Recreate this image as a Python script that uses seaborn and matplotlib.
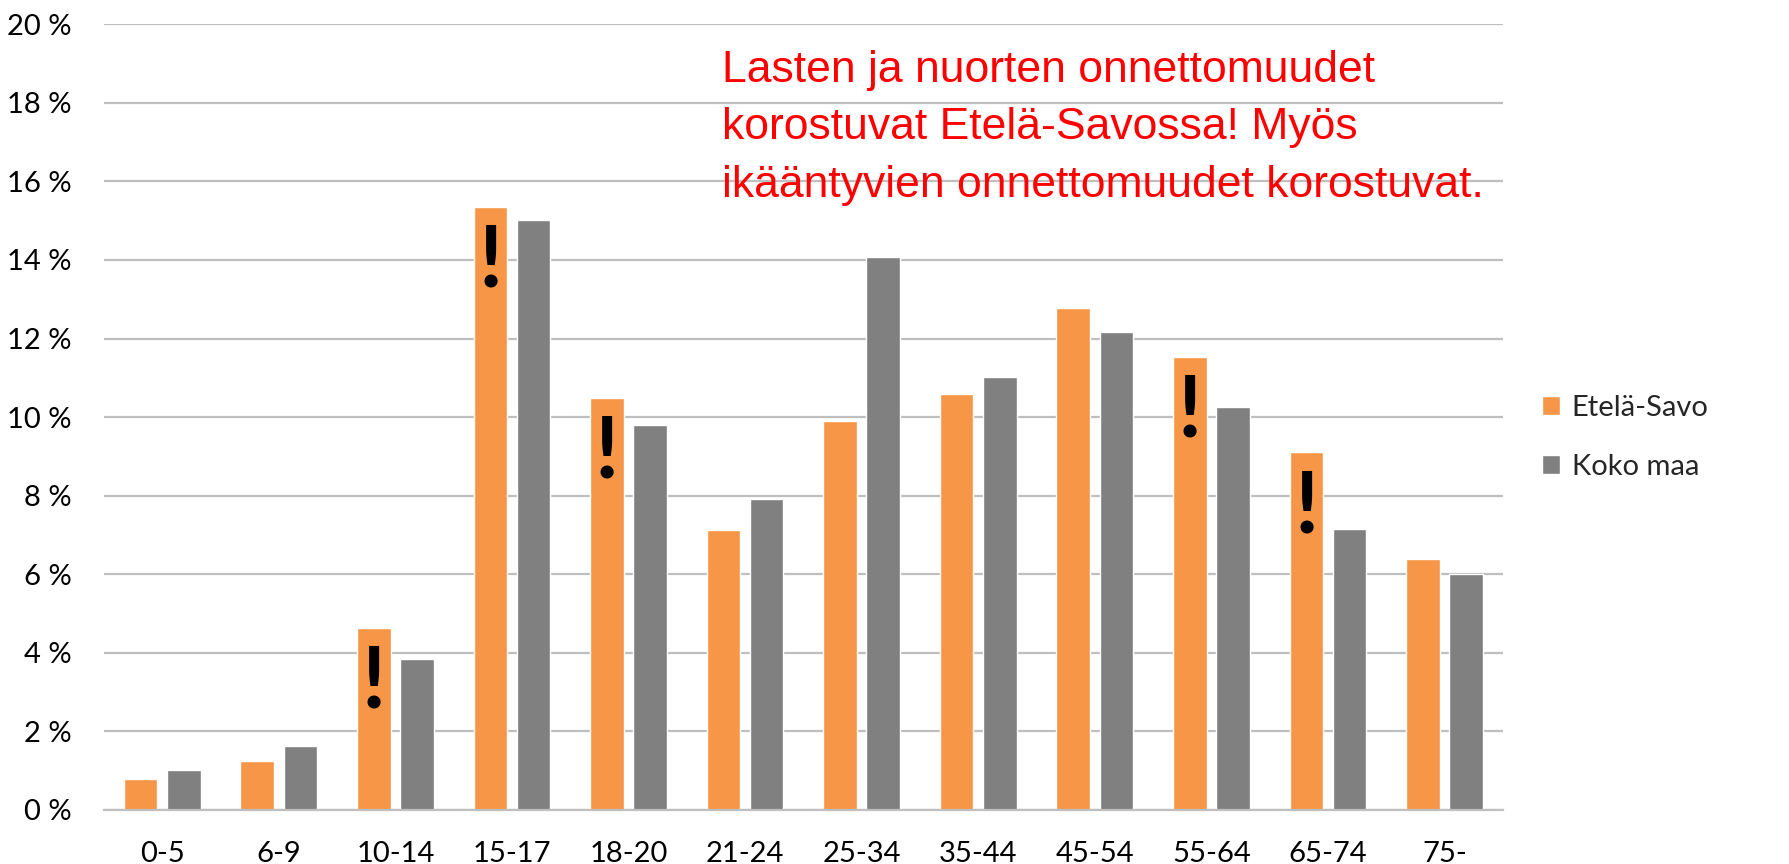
import pandas as pd
import numpy as np
import matplotlib
matplotlib.use("Agg")
import matplotlib.pyplot as plt
import seaborn as sns
from matplotlib.ticker import FuncFormatter

# Ikäryhmät ja osuudet (%) luettuna kuvasta
ika_ryhmat = ['0-5', '6-9', '10-14', '15-17', '18-20', '21-24',
              '25-34', '35-44', '45-54', '55-64', '65-74', '75-']
etela_savo = [0.79, 1.24, 4.63, 15.36, 10.49, 7.12, 9.91, 10.59, 12.78, 11.54, 9.10, 6.39]
koko_maa = [1.03, 1.64, 3.85, 15.03, 9.80, 7.91, 14.08, 11.02, 12.16, 10.25, 7.14, 6.00]
alueet = ['Etelä-Savo', 'Koko maa']
korostetut = ['10-14', '15-17', '18-20', '55-64', '65-74']

# Pitkä muoto seabornille
df = pd.DataFrame({
    'ika': ika_ryhmat * 2,
    'osuus': etela_savo + koko_maa,
    'alue': [alueet[0]] * len(ika_ryhmat) + [alueet[1]] * len(ika_ryhmat),
})

sns.set_style('white')
plt.rcParams['font.family'] = ['Lato', 'DejaVu Sans']

fig = plt.figure(figsize=(17.89, 8.64), dpi=100)
ax = fig.add_axes([0.0581, 0.0625, 0.840 - 0.0581, 0.9719 - 0.0625])

sns.barplot(data=df, x='ika', y='osuus', hue='alue', order=ika_ryhmat,
            palette=['#F79646', '#808080'], width=0.74, gap=0.22,
            saturation=1, ax=ax)

# Akselit ja ruudukko
ax.set_ylim(0, 20)
ax.set_xlim(-0.5, len(ika_ryhmat) - 0.5)
ax.set_yticks(np.arange(0, 21, 2))
ax.yaxis.set_major_formatter(FuncFormatter(lambda v, p: f'{int(v)} %'))
ax.grid(axis='y', color='#BFBFBF', linewidth=1.6)
ax.set_axisbelow(True)
for s in ['top', 'right', 'left']:
    ax.spines[s].set_visible(False)
ax.spines['bottom'].set_color('#BFBFBF')
ax.spines['bottom'].set_linewidth(1.6)
ax.tick_params(axis='both', length=0, labelsize=21, colors='black')
ax.tick_params(axis='y', pad=23)
ax.tick_params(axis='x', pad=22)
ax.set_xlabel('')
ax.set_ylabel('')

# Huutomerkit korostetuissa pylväissä
for i, ika in enumerate(ika_ryhmat):
    if ika in korostetut:
        ax.text(i - 0.185, etela_savo[i] - 0.4, '!', ha='center', va='top',
                fontsize=62, fontweight='bold', color='black')

# Punainen huomioteksti (va='baseline' = viimeisen rivin perusviiva)
fig.text(0.4034, 1 - 197 / 864,
         'Lasten ja nuorten onnettomuudet\nkorostuvat Etelä-Savossa! Myös\nikääntyvien onnettomuudet korostuvat.',
         ha='left', va='baseline', color='#FF0000', fontsize=32, linespacing=1.52,
         family=['Liberation Sans', 'DejaVu Sans'])

# Selite
sns.move_legend(ax, 'center left', bbox_to_anchor=(1.02, 0.4745), frameon=False,
                title=None, fontsize=21, handlelength=0.6, handleheight=0.6,
                handletextpad=0.4, labelspacing=1.13, borderaxespad=0)

plt.savefig('out.png', dpi=100)
